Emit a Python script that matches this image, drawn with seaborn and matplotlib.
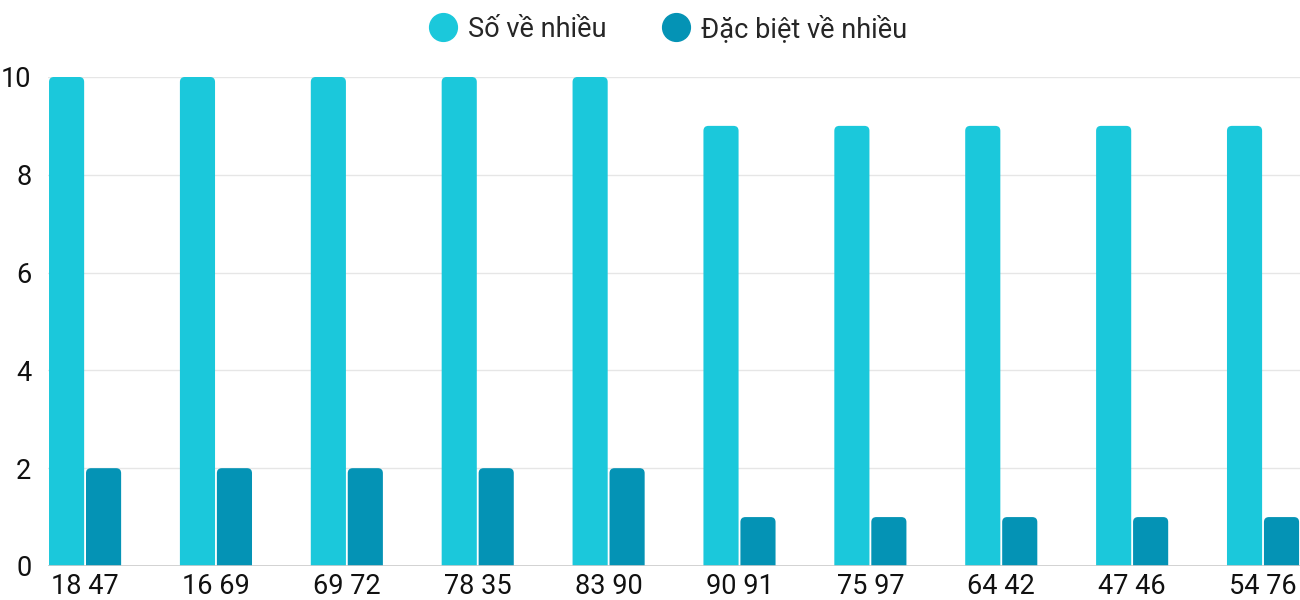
import pandas as pd
import matplotlib.pyplot as plt
import seaborn as sns
from matplotlib.patches import FancyBboxPatch
from matplotlib.lines import Line2D

pairs = ['18 47', '16 69', '69 72', '78 35', '83 90', '90 91', '75 97', '64 42', '47 46', '54 76']
so_ve_nhieu = [10, 10, 10, 10, 10, 9, 9, 9, 9, 9]
dac_biet = [2, 2, 2, 2, 2, 1, 1, 1, 1, 1]
series = ['Số về nhiều', 'Đặc biệt về nhiều']
colors = ['#1BC8DB', '#0493B5']

df = pd.DataFrame({
    'pair': pairs * 2,
    'value': so_ve_nhieu + dac_biet,
    'series': [series[0]] * len(pairs) + [series[1]] * len(pairs),
})

sns.set_style('white')
plt.rcParams['font.family'] = ['Roboto', 'DejaVu Sans']

fig = plt.figure(figsize=(13, 6), dpi=100)
ax = fig.add_axes([0.037, 0.0567, 0.963, 0.815])

group_w = 0.565
sns.barplot(data=df, x='pair', y='value', hue='series', palette=colors,
            width=group_w, gap=0.05, ax=ax, legend=False, saturation=1)

ax.set_xlim(-group_w / 2, len(pairs) - 1 + group_w / 2)
ax.set_ylim(0, 10)

# rounded tops: swap each rectangle for a rounded box that dips below zero
bbox = ax.get_position()
px_x = bbox.width * 1300 / (ax.get_xlim()[1] - ax.get_xlim()[0])
px_y = bbox.height * 600 / 10
r_px = 5
for p in list(ax.patches):
    x, w, h = p.get_x(), p.get_width(), p.get_height()
    fc = p.get_facecolor()
    p.remove()
    fb = FancyBboxPatch((x, -0.5), w, h + 0.5,
                        boxstyle=f'round,pad=0,rounding_size={r_px / px_x}',
                        mutation_aspect=px_x / px_y,
                        facecolor=fc, edgecolor='none', zorder=3, clip_on=True)
    ax.add_patch(fb)

ax.set_yticks(range(0, 11, 2))
ax.grid(axis='y', color='#e6e6e6', linewidth=1, zorder=0)
ax.axhline(0, color='#cccccc', linewidth=1.2, zorder=4)
for s in ax.spines.values():
    s.set_visible(False)
ax.tick_params(axis='both', length=0, labelsize=19.5, colors='#111111')
ax.tick_params(axis='y', pad=12)
ax.tick_params(axis='x', pad=5)
ax.set_xlabel('')
ax.set_ylabel('')

handles = [Line2D([0], [0], marker='o', linestyle='none', markersize=20,
                  markerfacecolor=c, markeredgecolor=c) for c in colors]
fig.legend(handles, series, loc='center', bbox_to_anchor=(0.513, 0.952), ncol=2,
           frameon=False, fontsize=19.5, handletextpad=0.3, columnspacing=2.0,
           handlelength=1.2)

plt.savefig('out.png', dpi=100)
